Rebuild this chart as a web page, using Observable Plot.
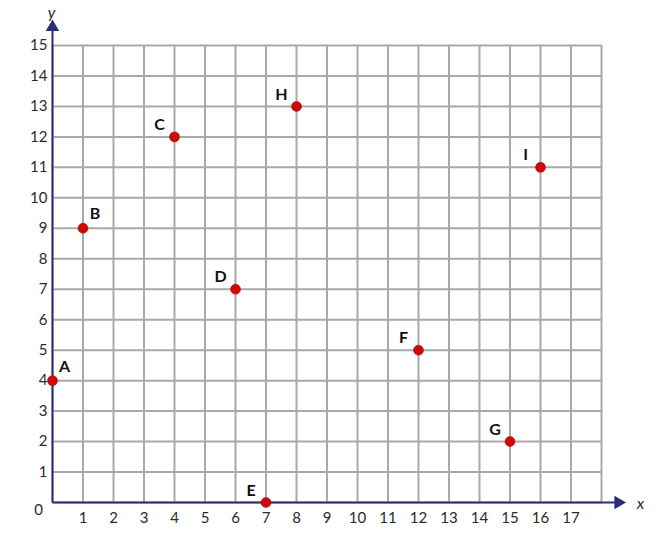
<!DOCTYPE html>
<html>
<head>
<meta charset="utf-8">
<script src="https://cdn.jsdelivr.net/npm/d3@7"></script>
<script src="https://cdn.jsdelivr.net/npm/@observablehq/plot@0.6"></script>
<style>
  html, body { margin: 0; padding: 0; background: #fff; }
  svg { display: block; }
</style>
</head>
<body>
<div id="chart"></div>
<script>
const pointNames = ["A", "B", "C", "D", "E", "F", "G", "H", "I"];
const pointX = [0, 1, 4, 6, 7, 12, 15, 8, 16];
const pointY = [4, 9, 12, 7, 0, 5, 2, 13, 11];
const labelSide = ["right", "right", "left", "left", "left", "left", "left", "left", "left"];
const xTicks = [1, 2, 3, 4, 5, 6, 7, 8, 9, 10, 11, 12, 13, 14, 15, 16, 17];
const yTicks = [1, 2, 3, 4, 5, 6, 7, 8, 9, 10, 11, 12, 13, 14, 15];
const gridX = d3.range(0, 19);
const gridY = d3.range(0, 16);
const xMax = 18, yMax = 15;
const xArrowEnd = 18.55, yArrowEnd = 15.6;

const points = pointNames.map((n, i) => ({name: n, x: pointX[i], y: pointY[i], side: labelSide[i]}));

const font = "Lato, 'Open Sans', sans-serif";
const axisColor = "#2b2d7c";
const tickColor = "#2a2a2a";

const chart = Plot.plot({
  width: 658,
  height: 534,
  marginLeft: 52,
  marginRight: 57,
  marginTop: 45,
  marginBottom: 32,
  x: {domain: [0, xMax], axis: null},
  y: {domain: [0, yMax], axis: null},
  style: {fontFamily: font, background: "#fff"},
  marks: [
    Plot.ruleX(gridX, {x: d => d, y1: 0, y2: yMax, stroke: "#a9a9a9", strokeWidth: 2}),
    Plot.ruleY(gridY, {y: d => d, x1: 0, x2: xMax, stroke: "#a9a9a9", strokeWidth: 2}),
    Plot.link([{x1: 0, y1: 0, x2: xArrowEnd, y2: 0}], {x1: "x1", y1: "y1", x2: "x2", y2: "y2", stroke: axisColor, strokeWidth: 2, clip: false}),
    Plot.link([{x1: 0, y1: 0, x2: 0, y2: yArrowEnd}], {x1: "x1", y1: "y1", x2: "x2", y2: "y2", stroke: axisColor, strokeWidth: 2, clip: false}),
    Plot.dot([{x: xArrowEnd, y: 0}], {x: "x", y: "y", symbol: "triangle", r: 5, rotate: 90, fill: axisColor, stroke: null, clip: false}),
    Plot.dot([{x: 0, y: yArrowEnd}], {x: "x", y: "y", symbol: "triangle", r: 5, rotate: 0, fill: axisColor, stroke: null, clip: false}),
    Plot.text(xTicks, {x: d => d, y: 0, text: d => String(d), dy: 16, fontSize: 15, fill: tickColor, clip: false}),
    Plot.text(yTicks, {x: 0, y: d => d, text: d => String(d), dx: -5, textAnchor: "end", fontSize: 15, fill: tickColor, clip: false}),
    Plot.text(["0"], {x: 0, y: 0, text: d => d, dx: -14, dy: 8, fontSize: 15, fill: tickColor, clip: false}),
    Plot.text(["x"], {x: xMax, y: 0, text: d => d, dx: 39, dy: 1, fontSize: 16, fontStyle: "italic", fill: tickColor, clip: false}),
    Plot.text(["y"], {x: 0, y: yMax, text: d => d, dx: -1, dy: -33, fontSize: 16, fontStyle: "italic", fill: tickColor, clip: false}),
    Plot.dot(points, {x: "x", y: "y", r: 5, fill: "#cc0a0a", stroke: "#b00000", strokeWidth: 0.5, clip: false}),
    Plot.text(points.filter(d => d.side === "right"), {x: "x", y: "y", text: "name", dx: 12, dy: -14, fontSize: 16, fontWeight: "bold", fill: "#111"}),
    Plot.text(points.filter(d => d.side === "left"), {x: "x", y: "y", text: "name", dx: -15, dy: -12, fontSize: 16, fontWeight: "bold", fill: "#111"})
  ]
});
document.getElementById("chart").appendChild(chart);
</script>
</body>
</html>
